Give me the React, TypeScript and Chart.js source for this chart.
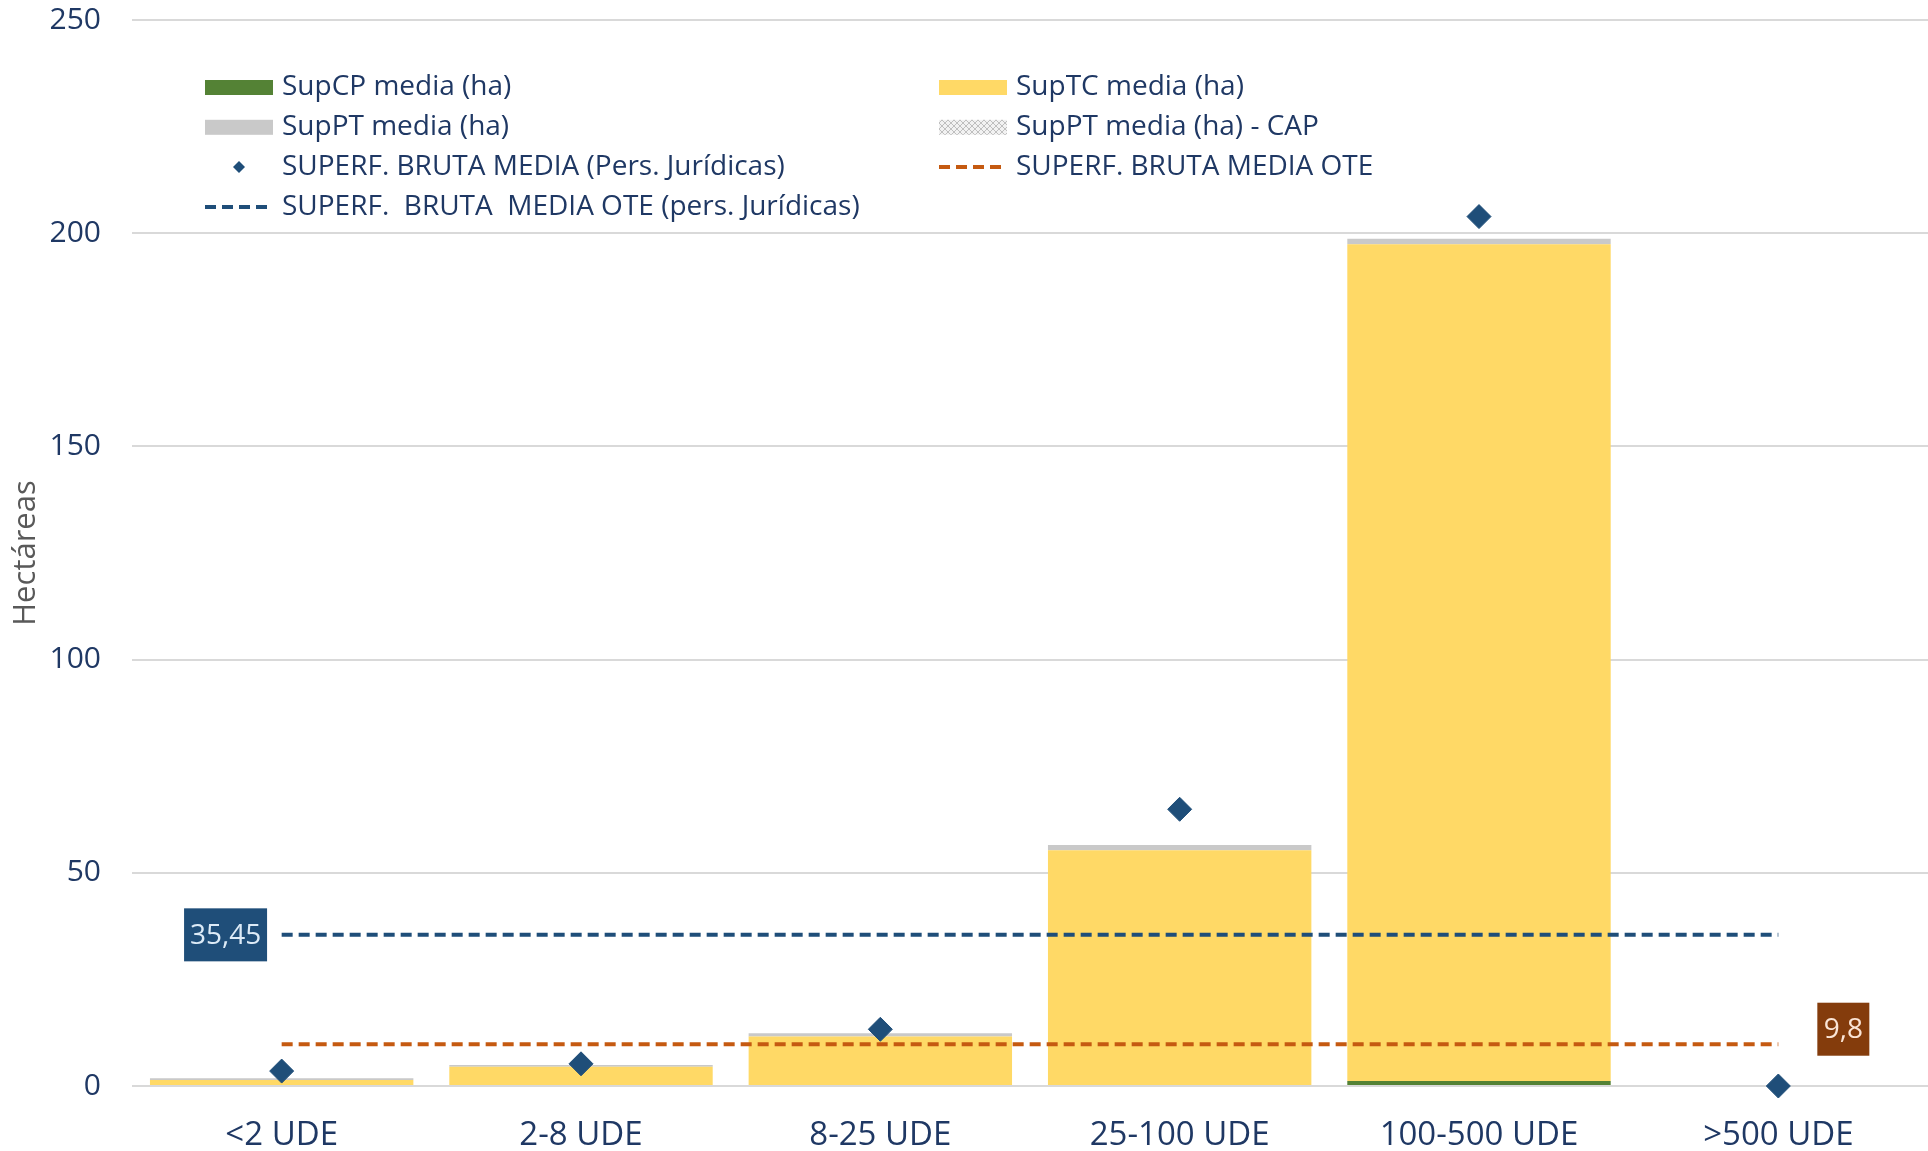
import React, { useEffect, useRef } from 'react';
import { Chart, registerables } from 'chart.js';

Chart.register(...registerables);

const categories = ['<2 UDE', '2-8 UDE', '8-25 UDE', '25-100 UDE', '100-500 UDE', '>500 UDE'];
const supCP = [0, 0, 0, 0, 1.2, 0];
const supTC = [1.4, 4.5, 11.6, 55.3, 196.2, 0];
const supPT = [0.4, 0.4, 0.8, 1.2, 1.3, 0];
const supPTCap = [0, 0, 0, 0, 0, 0];
const brutaMediaPJ = [3.5, 5.2, 13.3, 64.9, 203.9, 0];
const oteMedia = 9.8;
const oteMediaPJ = 35.45;
const yTicks = [0, 50, 100, 150, 200, 250];

const FONT = "'Open Sans', 'Noto Sans', sans-serif";
const NAVY_TEXT = '#1F3864';

function makePattern(): CanvasPattern | string {
  const c = document.createElement('canvas');
  c.width = 6;
  c.height = 6;
  const g = c.getContext('2d');
  if (!g) return '#D9D9D9';
  g.fillStyle = '#F2F2F2';
  g.fillRect(0, 0, 6, 6);
  g.strokeStyle = '#BFBFBF';
  g.lineWidth = 1;
  g.beginPath();
  g.moveTo(0, 0); g.lineTo(6, 6);
  g.moveTo(6, 0); g.lineTo(0, 6);
  g.stroke();
  const p = g.createPattern(c, 'repeat');
  return p || '#D9D9D9';
}

const legendPlugin = {
  id: 'customLegend',
  afterDraw(chart: any) {
    const ctx = chart.ctx as CanvasRenderingContext2D;
    const { left, top } = chart.chartArea;
    const layout = [
      { ds: 0, col: 0, row: 0 },
      { ds: 1, col: 1, row: 0 },
      { ds: 2, col: 0, row: 1 },
      { ds: 3, col: 1, row: 1 },
      { ds: 4, col: 0, row: 2 },
      { ds: 5, col: 1, row: 2 },
      { ds: 6, col: 0, row: 3 },
    ];
    const colX = [left + 73, left + 807];
    const swW = 68;
    ctx.save();
    layout.forEach(({ ds, col, row }) => {
      const d = chart.data.datasets[ds];
      const x = colX[col];
      const y = top + 67.5 + row * 39.8;
      const kind = d.type || 'bar';
      if (kind === 'bar') {
        ctx.fillStyle = d.backgroundColor;
        ctx.fillRect(x, y - 7.5, swW, 15);
      } else if (d.showLine === false) {
        ctx.fillStyle = d.backgroundColor;
        const r = 6;
        const cx = x + swW / 2;
        ctx.beginPath();
        ctx.moveTo(cx - r, y);
        ctx.lineTo(cx, y - r);
        ctx.lineTo(cx + r, y);
        ctx.lineTo(cx, y + r);
        ctx.closePath();
        ctx.fill();
      } else {
        ctx.strokeStyle = d.borderColor;
        ctx.lineWidth = 4;
        ctx.setLineDash([11, 6]);
        ctx.beginPath();
        ctx.moveTo(x, y);
        ctx.lineTo(x + swW, y);
        ctx.stroke();
        ctx.setLineDash([]);
      }
      ctx.fillStyle = NAVY_TEXT;
      ctx.font = `28px ${FONT}`;
      ctx.textBaseline = 'middle';
      ctx.textAlign = 'left';
      ctx.fillText(d.label, x + swW + 9, y);
    });
    ctx.restore();
  },
};

const valueLabelPlugin = {
  id: 'valueLabels',
  afterDatasetsDraw(chart: any) {
    const ctx = chart.ctx as CanvasRenderingContext2D;
    const drawBox = (text: string, cx: number, cy: number, w: number, h: number, bg: string, fg: string) => {
      ctx.fillStyle = bg;
      ctx.fillRect(cx - w / 2, cy - h / 2, w, h);
      ctx.fillStyle = fg;
      ctx.font = `28px ${FONT}`;
      ctx.textAlign = 'center';
      ctx.textBaseline = 'middle';
      ctx.fillText(text, cx, cy + 1);
    };
    ctx.save();
    const navyMeta = chart.getDatasetMeta(6);
    const first = navyMeta.data[0];
    if (first) {
      const w = 83;
      drawBox(String(oteMediaPJ).replace('.', ','), first.x - 14.6 - w / 2, first.y, w, 53, '#1F4E79', '#DDEBF7');
    }
    const oMeta = chart.getDatasetMeta(5);
    const last = oMeta.data[oMeta.data.length - 1];
    if (last) {
      const w = 52;
      drawBox(String(oteMedia).replace('.', ','), last.x + 39 + w / 2, last.y - 15, w, 53, '#843C0C', '#FBE5D6');
    }
    ctx.restore();
  },
};

export default function App() {
  const ref = useRef<HTMLCanvasElement | null>(null);

  useEffect(() => {
    document.body.style.margin = '0';
    const canvas = ref.current;
    if (!canvas) return;
    const pattern = makePattern();
    const chart = new Chart(canvas, {
      type: 'bar',
      data: {
        labels: categories,
        datasets: [
          { type: 'bar', label: 'SupCP media (ha)', data: supCP, backgroundColor: '#548235', order: 10 } as any,
          { type: 'bar', label: 'SupTC media (ha)', data: supTC, backgroundColor: '#FFD966', order: 10 } as any,
          { type: 'bar', label: 'SupPT media (ha)', data: supPT, backgroundColor: '#C9C9C9', order: 10 } as any,
          { type: 'bar', label: 'SupPT media (ha) - CAP', data: supPTCap, backgroundColor: pattern, order: 10 } as any,
          {
            type: 'line', label: 'SUPERF. BRUTA MEDIA (Pers. Jurídicas)', data: brutaMediaPJ,
            showLine: false, pointStyle: 'rectRot', pointRadius: 12, pointBackgroundColor: '#1F4E79',
            pointBorderColor: '#1F4E79', pointBorderWidth: 1, backgroundColor: '#1F4E79', borderColor: '#1F4E79',
            stack: 's1', order: 0, clip: false,
          } as any,
          {
            type: 'line', label: 'SUPERF. BRUTA MEDIA OTE', data: categories.map(() => oteMedia),
            borderColor: '#C55A11', backgroundColor: '#C55A11', borderWidth: 4, borderDash: [11, 6],
            pointRadius: 0, stack: 's2', order: 1, fill: false,
          } as any,
          {
            type: 'line', label: 'SUPERF.  BRUTA  MEDIA OTE (pers. Jurídicas)', data: categories.map(() => oteMediaPJ),
            borderColor: '#1F4E79', backgroundColor: '#1F4E79', borderWidth: 4, borderDash: [11, 6],
            pointRadius: 0, stack: 's3', order: 1, fill: false,
          } as any,
        ],
      },
      options: {
        responsive: false,
        animation: false,
        devicePixelRatio: 1,
        layout: { autoPadding: false, padding: { top: 20, left: 0, right: 0, bottom: 0 } },
        datasets: { bar: { categoryPercentage: 0.88, barPercentage: 1 } } as any,
        plugins: {
          legend: { display: false },
          tooltip: { enabled: false },
        },
        scales: {
          x: {
            stacked: true,
            grid: { display: false, drawTicks: false },
            border: { display: false },
            ticks: { color: NAVY_TEXT, font: { family: FONT, size: 33 }, padding: 30, maxRotation: 0 },
            afterFit: (s: any) => { s.height = 65; s.paddingLeft = 0; s.paddingRight = 0; },
          },
          y: {
            stacked: true,
            min: 0,
            max: 250,
            grid: { color: '#D9D9D9', lineWidth: 2, drawTicks: false },
            border: { display: false },
            ticks: { color: NAVY_TEXT, font: { family: FONT, size: 30 }, padding: 31 },
            afterBuildTicks: (s: any) => { s.ticks = yTicks.map((v) => ({ value: v })); },
            title: {
              display: true,
              text: 'Hectáreas',
              color: '#595959',
              font: { family: FONT, size: 31 },
              padding: { top: 8, bottom: 0 },
            },
            afterFit: (s: any) => { s.width = 132; s.paddingTop = 0; s.paddingBottom = 0; },
          },
        },
      } as any,
      plugins: [legendPlugin, valueLabelPlugin],
    });
    return () => chart.destroy();
  }, []);

  return (
    <div style={{ position: 'absolute', left: 0, top: 0, width: 1928, height: 1151, background: '#fff' }}>
      <canvas ref={ref} width={1928} height={1151} style={{ width: 1928, height: 1151, display: 'block' }} />
    </div>
  );
}
